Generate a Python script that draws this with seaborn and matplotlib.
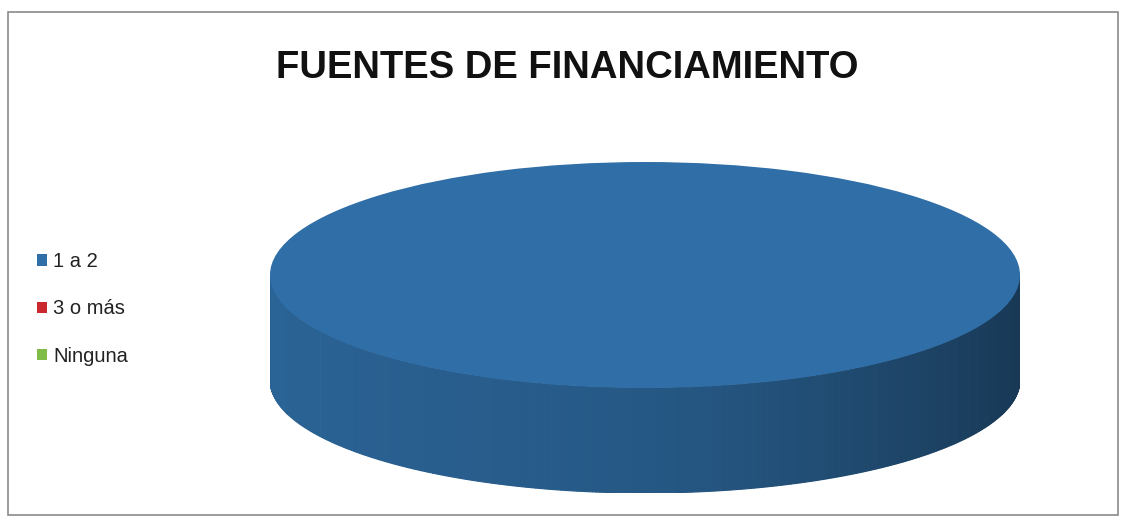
import numpy as np
import matplotlib
matplotlib.use("Agg")
import matplotlib.pyplot as plt
from matplotlib.patches import Rectangle
from matplotlib import colors as mcolors
import seaborn as sns

# ---- data ----
categories = ["1 a 2", "3 o más", "Ninguna"]
values = [100, 0, 0]
title = "FUENTES DE FINANCIAMIENTO"
palette = ["#2F6EA6", "#C8282E", "#7FBC48"]

sns.set_theme(style="white")
plt.rcParams['font.family'] = ['Liberation Sans', 'DejaVu Sans']

W, H = 1124, 526
fig = plt.figure(figsize=(W / 100, H / 100), dpi=100)
fig.patch.set_facecolor("white")

# outer frame
fig.add_artist(Rectangle((8 / W, 1 - 515 / H), (1118 - 8) / W, (515 - 12) / H,
                         transform=fig.transFigure, fill=False,
                         edgecolor="#8a8a8a", linewidth=1.2))

# pie axes: top ellipse rx=375px, ry=113px, depth ~105px
left, right, top, bottom = 270, 1020, 162, 493
ax = fig.add_axes([left / W, 1 - bottom / H, (right - left) / W, (bottom - top) / H])
depth = (bottom - top) / 113.0 - 2.0

wedges, _ = ax.pie(values, colors=palette, startangle=0, counterclock=True,
                   radius=1, center=(0, 0), frame=False,
                   wedgeprops=dict(linewidth=0, edgecolor="none"))
for w in wedges:
    w.set_zorder(3)

# side of the 3D disc, from each wedge's visible arc
total = float(sum(values))
start = 0.0
for v, c in zip(values, palette):
    a1 = start
    a2 = start + 360.0 * v / total
    start = a2
    lo, hi = max(a1, 180.0), min(a2, 360.0)
    if hi <= lo:
        continue
    base = np.array(mcolors.to_rgb(c))
    ts = np.radians(np.linspace(lo, hi, 361))
    for t0, t1 in zip(ts[:-1], ts[1:]):
        tm = 0.5 * (t0 + t1)
        ct = np.cos(tm)
        f = 0.80 - 0.10 * ct - 0.18 * max(ct, 0) ** 1.5
        col = np.clip(base * f, 0, 1)
        xs = [np.cos(t0), np.cos(t1), np.cos(t1), np.cos(t0)]
        ys = [np.sin(t0), np.sin(t1), np.sin(t1) - depth, np.sin(t0) - depth]
        ax.fill(xs, ys, color=col, linewidth=0.8, edgecolor=col, zorder=2)

ax.set_aspect("auto")
ax.set_xlim(-1, 1)
ax.set_ylim(-1 - depth, 1)
ax.axis("off")

# title
fig.text(567 / W, 1 - 68 / H, title, ha="center", va="center",
         fontsize=27.5, fontweight="bold", color="#111111")

# legend
fig.legend(wedges, categories, loc="center left",
           bbox_to_anchor=(37 / W, 1 - 309 / H), frameon=False,
           fontsize=14.5, handlelength=0.5, handleheight=0.5,
           handletextpad=0.3, labelspacing=1.4, borderaxespad=0,
           borderpad=0, labelcolor="#222222")

fig.savefig("out.png", dpi=100, facecolor="white")
